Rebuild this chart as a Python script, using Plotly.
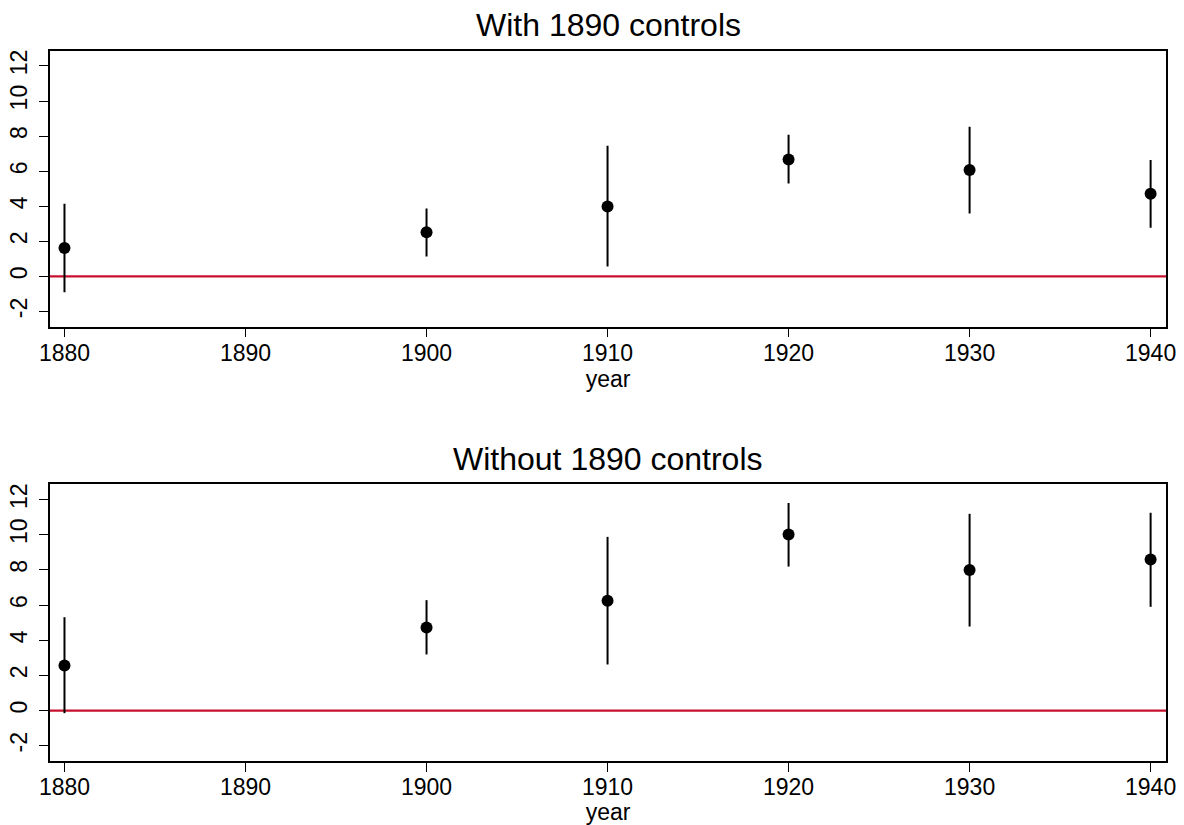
import plotly.graph_objects as go

years = [1880, 1900, 1910, 1920, 1930, 1940]

# Panel 1: With 1890 controls
est_with = [1.62, 2.51, 3.99, 6.67, 6.06, 4.71]
lo_with = [-0.91, 1.14, 0.57, 5.30, 3.59, 2.77]
hi_with = [4.14, 3.87, 7.45, 8.07, 8.53, 6.63]

# Panel 2: Without 1890 controls
est_without = [2.56, 4.72, 6.24, 10.01, 7.99, 8.59]
lo_without = [-0.15, 3.19, 2.62, 8.19, 4.78, 5.90]
hi_without = [5.31, 6.28, 9.88, 11.81, 11.19, 11.25]

titles = ["With 1890 controls", "Without 1890 controls"]
x_ticks = [1880, 1890, 1900, 1910, 1920, 1930, 1940]
y_ticks = [-2, 0, 2, 4, 6, 8, 10, 12]
y_ticktext = ["-2", "0", "2", "4", "6", "8", "10", "12"]

W, H = 1184, 825
FONT = "Arial, Liberation Sans, Helvetica, sans-serif"
RED = "#c8102e"

fig = go.Figure()

panels = [
    (est_with, lo_with, hi_with, "x", "y"),
    (est_without, lo_without, hi_without, "x2", "y2"),
]
for est, lo, hi, xa, ya in panels:
    # zero reference line
    fig.add_trace(go.Scatter(
        x=[1879.2, 1940.85], y=[0, 0], mode="lines",
        line=dict(color=RED, width=2.2), xaxis=xa, yaxis=ya,
        showlegend=False, hoverinfo="skip"))
    fig.add_trace(go.Scatter(
        x=years, y=est, mode="markers",
        marker=dict(color="black", size=12),
        error_y=dict(type="data", symmetric=False,
                     array=[h - e for h, e in zip(hi, est)],
                     arrayminus=[e - l for e, l in zip(est, lo)],
                     color="black", thickness=2, width=0),
        xaxis=xa, yaxis=ya, showlegend=False))

xdom = [50 / W, 1166 / W]
top_dom = [1 - 326.7 / H, 1 - 50.7 / H]
bot_dom = [1 - 761 / H, 1 - 484.3 / H]

axis_common = dict(
    showline=True, linecolor="black", linewidth=1.5, mirror=True,
    ticks="outside", ticklen=9, tickwidth=1.3, tickcolor="black",
    showgrid=False, zeroline=False, automargin=False,
    tickfont=dict(family=FONT, size=23, color="black"),
)

xaxis_kw = dict(axis_common, range=[1879.2, 1940.85], tickvals=x_ticks,
                ticklabelstandoff=-4,
                title=dict(text="year", font=dict(family=FONT, size=23, color="black"), standoff=4))
yaxis_kw = dict(axis_common, range=[-2.87, 12.87], tickvals=y_ticks,
                ticktext=y_ticktext, tickangle=-90, ticklabelstandoff=3)

fig.update_layout(
    width=W, height=H,
    margin=dict(l=0, r=0, t=0, b=0),
    paper_bgcolor="white", plot_bgcolor="white",
    font=dict(family=FONT, color="black"),
    xaxis=dict(xaxis_kw, domain=xdom, anchor="y"),
    yaxis=dict(yaxis_kw, domain=top_dom, anchor="x"),
    xaxis2=dict(xaxis_kw, domain=xdom, anchor="y2"),
    yaxis2=dict(yaxis_kw, domain=bot_dom, anchor="x2"),
    annotations=[
        dict(text=titles[0], x=608 / W, y=1 - 37 / H, xref="paper", yref="paper",
             xanchor="center", yanchor="bottom", showarrow=False,
             font=dict(family=FONT, size=32, color="black"), yshift=-8),
        dict(text=titles[1], x=608 / W, y=1 - 471 / H, xref="paper", yref="paper",
             xanchor="center", yanchor="bottom", showarrow=False,
             font=dict(family=FONT, size=32, color="black"), yshift=-8),
    ],
)

fig.write_html("out.html")
